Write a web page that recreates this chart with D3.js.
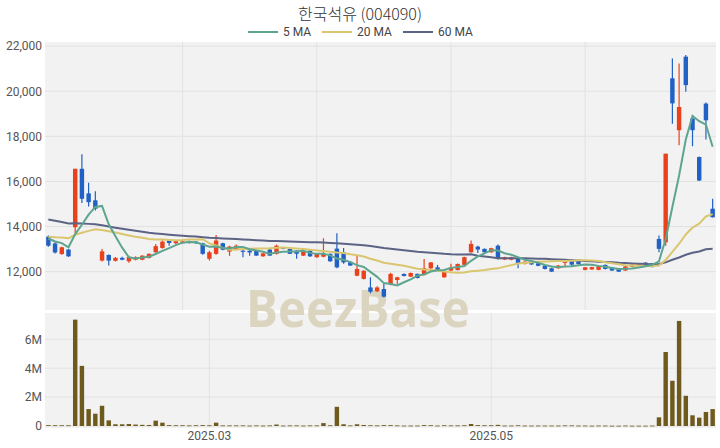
<!DOCTYPE html>
<html><head><meta charset="utf-8">
<script src="https://cdn.jsdelivr.net/npm/d3@7"></script>
<style>body{margin:0;background:#fff}</style>
</head><body>
<script>
const title = "한국석유 (004090)";
const dates = ["2025-01-22","2025-01-23","2025-01-24","2025-01-31","2025-02-03","2025-02-04","2025-02-05","2025-02-06","2025-02-07","2025-02-10",
"2025-02-11","2025-02-12","2025-02-13","2025-02-14","2025-02-17","2025-02-18","2025-02-19","2025-02-20","2025-02-21","2025-02-24",
"2025-02-25","2025-02-26","2025-02-27","2025-02-28","2025-03-04","2025-03-05","2025-03-06","2025-03-07","2025-03-10","2025-03-11",
"2025-03-12","2025-03-13","2025-03-14","2025-03-17","2025-03-18","2025-03-19","2025-03-20","2025-03-21","2025-03-24","2025-03-25",
"2025-03-26","2025-03-27","2025-03-28","2025-03-31","2025-04-01","2025-04-02","2025-04-03","2025-04-04","2025-04-07","2025-04-08",
"2025-04-09","2025-04-10","2025-04-11","2025-04-14","2025-04-15","2025-04-16","2025-04-17","2025-04-18","2025-04-21","2025-04-22",
"2025-04-23","2025-04-24","2025-04-25","2025-04-28","2025-04-29","2025-04-30","2025-05-02","2025-05-07","2025-05-08","2025-05-09",
"2025-05-12","2025-05-13","2025-05-14","2025-05-15","2025-05-16","2025-05-19","2025-05-20","2025-05-21","2025-05-22","2025-05-23",
"2025-05-26","2025-05-27","2025-05-28","2025-05-29","2025-05-30","2025-06-02","2025-06-04","2025-06-05","2025-06-09","2025-06-10",
"2025-06-11","2025-06-12","2025-06-13","2025-06-16","2025-06-17","2025-06-18","2025-06-19","2025-06-20","2025-06-23","2025-06-24"];

const opens = [13550,13250,12780,12980,13970,16560,15470,15160,12490,12740,
12480,12610,12460,12530,12530,12610,12860,13050,13380,13260,
13280,13350,13330,13260,12570,12790,13260,12890,12970,12930,
12930,12930,12680,12980,12790,13060,13010,12930,12710,12930,
12640,12660,12790,13020,12860,12440,11820,11680,11300,11130,
11230,11450,11630,11900,11780,11900,11860,12150,12190,11750,
12050,12070,12300,12860,13110,13010,12860,13150,12540,12530,
12560,12340,12400,12370,12270,12150,12150,12390,12520,12490,
12080,12100,12080,12300,12190,12120,12050,12220,12330,12400,
12360,13450,13300,20570,18270,21530,18790,17080,19450,14790];

const highs = [13600,13300,13100,13000,16560,17200,15940,15560,13000,12760,
12650,12660,12700,12680,12730,12800,13230,13380,13400,13380,
13380,13380,13350,13280,12930,13630,13280,13150,13200,12950,
12950,12950,12830,13000,13200,13080,13030,12950,12920,12950,
12820,13480,12810,13700,13050,12460,12710,12060,11750,11350,
11450,11950,11770,11920,11960,11920,12560,12420,12300,12020,
12350,12360,12660,13380,13150,13030,13060,13200,12660,12660,
12580,12460,12420,12390,12290,12170,12290,12510,12540,12510,
12210,12220,12260,12320,12210,12140,12250,12330,12370,12420,
12380,13600,17230,21450,21230,21600,18950,17100,19500,15230];

const lows = [13100,12800,12750,12650,13690,15040,14890,14710,12450,12270,
12450,12500,12400,12500,12500,12580,12840,13020,13150,13230,
13250,13250,13230,12750,12490,12750,12950,12700,12950,12640,
12700,12700,12660,12700,12760,12990,12780,12570,12690,12650,
12620,12640,12440,12150,12350,12250,11800,11650,11040,11100,
10850,11400,11450,11780,11760,11700,11840,12000,12070,11730,
12030,12050,12280,12840,12830,12840,12840,12540,12520,12510,
12150,12320,12300,12240,12100,11980,12130,12200,12250,12320,
12060,12080,12060,12100,12030,11980,12030,12200,12310,12310,
12180,12860,13150,18560,17600,19970,17560,16020,17860,14400];

const closes = [13150,12850,13080,12680,16560,15230,15080,14790,12900,12490,
12610,12530,12640,12640,12710,12790,13130,13330,13270,13350,
13340,13280,13260,12790,12860,13380,12970,13110,13150,12880,
12850,12710,12810,12710,13150,13010,12790,12790,12890,12680,
12790,12790,12460,12190,12410,12270,12120,12040,11110,11300,
10890,11900,11750,11810,11940,11720,12150,12410,12090,12000,
12190,12340,12640,13230,12980,12860,13040,12560,12640,12640,
12340,12440,12320,12260,12120,12000,12270,12490,12310,12340,
12190,12200,12240,12120,12050,12000,12230,12310,12350,12330,
12300,13010,17230,19460,19300,20270,18270,16040,18710,14410];

const volumes = [60000,50000,50000,50000,7360000,4160000,1170000,850000,1400000,390000,
120000,120000,140000,100000,80000,70000,370000,230000,60000,50000,
50000,40000,50000,60000,50000,230000,40000,40000,40000,40000,
30000,40000,30000,40000,100000,30000,40000,40000,30000,40000,
40000,200000,50000,1330000,120000,40000,120000,70000,50000,40000,
60000,60000,40000,30000,30000,30000,60000,50000,30000,50000,
40000,40000,50000,140000,60000,50000,50000,80000,30000,30000,
50000,30000,30000,30000,30000,30000,30000,40000,40000,30000,
30000,20000,30000,30000,20000,20000,30000,20000,20000,20000,
30000,600000,5120000,3130000,7270000,2090000,740000,580000,970000,1170000];

// closes before the visible window (estimated from the MA lines), used for the moving averages
const prevCloses = [16350,16500,16200,16050,16150,15900,15750,15850,15600,15650,
15450,15500,15300,15350,15150,15050,15100,14900,14800,14650,
14500,14350,14400,14200,14250,14000,14100,13900,13850,13950,
13700,13600,13650,13500,13450,13550,13400,13350,13450,13300,
13350,13300,13450,13400,13500,13350,13450,13450,
13600,13750,13850,13900,13800,13700,13850,
13500,13450,13600,13640];

const maPeriods = [5, 20, 60];
const maNames = ["5 MA", "20 MA", "60 MA"];
const priceTicks = [12000, 14000, 16000, 18000, 20000, 22000];
const volumeTicks = [0, 2000000, 4000000, 6000000];
const monthTicks = ["2025-03-04", "2025-05-02"];
const gridDates = ["2025-02-25", "2025-03-26", "2025-04-23", "2025-05-26"];

const C = {up:"#e8411c", down:"#2160c4", vol:"#6e5a1c", panel:"#f2f2f2", grid:"#e2e2e2",
  ma:["#5ea58f","#d9c66e","#5d6385"], text:"#555"};
const L = {x0:45, x1:716, top:42, bot:310, vtop:313, vbot:428};
const FONT = "Roboto, 'Noto Sans', sans-serif";

const svg = d3.select("body").append("svg").attr("width",720).attr("height",448);

const x = d3.scaleBand().domain(dates).range([L.x0, L.x1]).padding(0);
const step = x.step();
const cx = d => x(d) + step/2;
const bw = step * 0.66;
const y = d3.scaleLinear().domain([10300, 22180]).range([L.bot, L.top]);
const yv = d3.scaleLinear().domain([0, 7750000]).range([426, L.vtop + 1]);

// title
svg.append("text").attr("x",360).attr("y",20).attr("text-anchor","middle")
  .attr("font-family","'Noto Sans CJK KR', sans-serif").attr("font-size",16).attr("font-weight",300)
  .attr("fill","#333").text(title);

// legend
const legendX = [248, 322, 403];
maNames.forEach((n,k) => {
  const g = svg.append("g").attr("transform",`translate(${legendX[k]},32)`);
  g.append("line").attr("x1",0).attr("x2",30).attr("y1",0).attr("y2",0).attr("stroke",C.ma[k]).attr("stroke-width",2);
  g.append("text").attr("x",35).attr("y",4).attr("font-family",FONT).attr("font-size",12).attr("fill","#444").text(n);
});

// panels
svg.append("rect").attr("x",L.x0).attr("y",L.top).attr("width",L.x1-L.x0).attr("height",L.bot-L.top).attr("fill",C.panel);
svg.append("rect").attr("x",L.x0).attr("y",L.vtop).attr("width",L.x1-L.x0).attr("height",L.vbot-L.vtop).attr("fill",C.panel);

// grid
svg.append("g").selectAll("line").data(priceTicks).join("line")
  .attr("x1",L.x0).attr("x2",L.x1).attr("y1",d=>y(d)).attr("y2",d=>y(d)).attr("stroke",C.grid);
svg.append("g").selectAll("line").data(gridDates).join("line")
  .attr("x1",d=>cx(d)).attr("x2",d=>cx(d)).attr("y1",L.top).attr("y2",L.bot).attr("stroke",C.grid);
svg.append("g").selectAll("line").data(volumeTicks).join("line")
  .attr("x1",L.x0).attr("x2",L.x1).attr("y1",d=>yv(d)).attr("y2",d=>yv(d)).attr("stroke",C.grid);
svg.append("g").selectAll("line").data(monthTicks).join("line")
  .attr("x1",d=>cx(d)).attr("x2",d=>cx(d)).attr("y1",L.vtop).attr("y2",L.vbot).attr("stroke",C.grid);

// axes
function styleAxis(g){ g.select(".domain").remove(); g.selectAll("text").attr("font-family",FONT).attr("font-size",12).attr("fill",C.text); }
svg.append("g").attr("transform",`translate(${L.x0},0)`)
  .call(d3.axisLeft(y).tickValues(priceTicks).tickFormat(d3.format(",")).tickSize(0).tickPadding(3)).call(styleAxis);
svg.append("g").attr("transform",`translate(${L.x0},0)`)
  .call(d3.axisLeft(yv).tickValues(volumeTicks).tickFormat(d => d===0 ? "0" : (d/1e6)+"M").tickSize(0).tickPadding(3)).call(styleAxis);
svg.append("g").attr("transform",`translate(0,${L.vbot})`)
  .call(d3.axisBottom(x).tickValues(monthTicks).tickFormat(d => d.slice(0,7).replace("-",".")).tickSize(0).tickPadding(3)).call(styleAxis);

// watermark
svg.append("text").attr("x",358).attr("y",327).attr("text-anchor","middle")
  .attr("font-family","'Open Sans', sans-serif").attr("font-weight",700).attr("font-size",52)
  .attr("textLength",224).attr("lengthAdjust","spacingAndGlyphs")
  .attr("fill","#d9d2bb").attr("opacity",0.9).text("BeezBase");

// data rows
const rows = dates.map((d,i) => ({d, o:opens[i], h:highs[i], l:lows[i], c:closes[i], v:volumes[i]}));
const col = r => r.c >= r.o ? C.up : C.down;

// volume bars
svg.append("g").selectAll("rect").data(rows).join("rect")
  .attr("x", r => cx(r.d) - bw/2).attr("width", bw)
  .attr("y", r => yv(r.v)).attr("height", r => Math.max(0.8, yv(0) - yv(r.v)))
  .attr("fill", C.vol);

// candles
svg.append("defs").append("clipPath").attr("id","mainclip").append("rect")
  .attr("x",L.x0).attr("y",L.top).attr("width",L.x1-L.x0).attr("height",L.bot-L.top);
const cg = svg.append("g").attr("clip-path","url(#mainclip)");
cg.selectAll("line.wick").data(rows).join("line").attr("class","wick")
  .attr("x1", r => cx(r.d)).attr("x2", r => cx(r.d))
  .attr("y1", r => y(r.h)).attr("y2", r => y(r.l)).attr("stroke", col).attr("stroke-width",1.2);
cg.selectAll("rect.body").data(rows).join("rect").attr("class","body")
  .attr("x", r => cx(r.d) - bw/2).attr("width", bw)
  .attr("y", r => y(Math.max(r.o, r.c))).attr("height", r => Math.max(1.2, Math.abs(y(r.o) - y(r.c))))
  .attr("fill", col);

// moving averages
const all = prevCloses.concat(closes);
const off = prevCloses.length;
function movingAvg(n){ return closes.map((_,i) => d3.mean(all.slice(i+off-n+1, i+off+1))); }
const line = d3.line().x((v,i) => cx(dates[i])).y(v => y(v));
[2,1,0].forEach(k => {
  cg.append("path").datum(movingAvg(maPeriods[k])).attr("d", line)
    .attr("fill","none").attr("stroke",C.ma[k]).attr("stroke-width",2);
});
</script>
</body></html>
